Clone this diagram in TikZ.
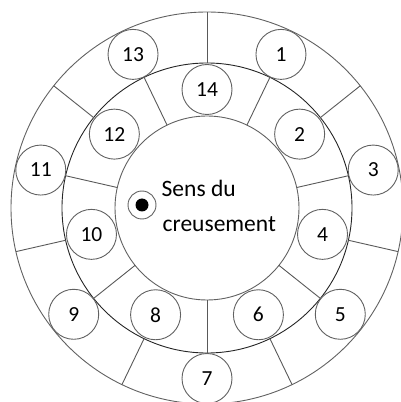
\documentclass[tikz,border=0pt]{standalone}
\usepackage{fontspec}
\setmainfont{Carlito}
\begin{document}
\begin{tikzpicture}[x=1pt,y=1pt,
  ring/.style={draw=black!62, line width=0.9pt},
  midring/.style={draw=black!85, line width=0.9pt},
  divider/.style={draw=black!65, line width=0.9pt},
  num/.style={circle, draw=black!62, fill=white, line width=0.9pt, minimum size=50pt, inner sep=0pt, font=\fontsize{21.5}{21.5}\selectfont},
  label/.style={anchor=base west, inner sep=0pt, font=\fontsize{23.5}{28}\selectfont}
]
\useasboundingbox (0,0) rectangle (400,402);
\coordinate (C) at (207,194);
\draw[ring] (C) circle[radius=196];
\draw[midring] (C) circle[radius=145];
\draw[ring] (C) circle[radius=92];
\foreach \k in {0,...,6} {
  \pgfmathsetmacro\ao{90-\k*360/7}
  \pgfmathsetmacro\ai{-90+\k*360/7}
  \draw[divider] ([shift={(\ao:145)}]C) -- ([shift={(\ao:196)}]C);
  \draw[divider] ([shift={(\ai:92)}]C) -- ([shift={(\ai:145)}]C);
}
\foreach \k in {1,...,14} {
  \pgfmathsetmacro\ang{90-\k*180/7}
  \pgfmathsetmacro\rad{mod(\k,2)==1 ? 170.5 : 118.5}
  \node[num] (n\k) at ([shift={(\ang:\rad)}]C) {\k};
}
\node[circle, draw=black!62, line width=0.9pt, minimum size=28pt, inner sep=0pt] (bul) at (142,197) {};
\node[circle, fill=black, minimum size=13pt, inner sep=0pt] (dot) at (bul.center) {};
\node[label] (t1) at (161.5,205.3) {Sens du};
\node[label] (t2) at (162.5,170.3) {creusement};
\end{tikzpicture}
\end{document}
